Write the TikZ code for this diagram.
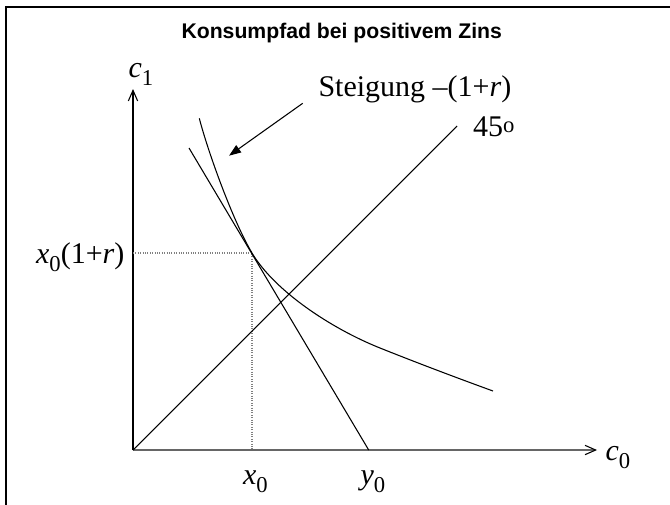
\documentclass[tikz,border=0pt]{standalone}
\usepackage{fontspec}
\setmainfont{Liberation Serif}
\newfontfamily\headfont{Liberation Sans}
\usetikzlibrary{arrows.meta}
\newcommand\lowidx[2]{\textit{#1}\raisebox{-6pt}{\fontsize{17}{17}\selectfont #2}}

\begin{document}
\begin{tikzpicture}[x=.75pt,y=-.75pt,font=\fontsize{22.5}{27}\selectfont,line width=.8pt,
  axis/.style={-{Straight Barb[length=8pt,width=7pt,line width=.8pt,color=black]}},
  guide/.style={densely dotted,black!50},
  lbl/.style={inner sep=0pt}]
\useasboundingbox (0,0) rectangle (670,504);
\draw[line width=1.1pt] (6,540) -- (6,7) -- (700,7);
\node[lbl,anchor=base,font=\headfont\bfseries\fontsize{15.9}{19}\selectfont] (title) at (341.7,38.3) {Konsumpfad bei positivem Zins};
\coordinate (orig) at (133,450);
\coordinate (xend) at (597,450);
\coordinate (yend) at (133,89);
\coordinate (tang) at (252,253);
\coordinate (xfoot) at (252,450);
\coordinate (yfoot) at (133,253);
\coordinate (bstart) at (189,148);
\coordinate (bend) at (368.7,450);
\coordinate (diag) at (457,126);
\coordinate (icstart) at (199.3,118.3);
\coordinate (icend) at (493,391);
\coordinate (arrtail) at (302.7,103.3);
\coordinate (arrtip) at (229,155.7);
\draw[axis] (orig) -- (yend);
\draw[axis,black!60,line width=1.1pt] (orig) -- (xend);
\draw[guide] (yfoot) -- (tang) -- (xfoot);
\draw (bstart) -- (bend);
\draw (orig) -- (diag);
\draw (icstart) .. controls (207.3,149.5) and (232,219.2) .. (tang) .. controls (274,290.2) and (330,328) .. (380,348) .. controls (420,364) and (460,379) .. (icend);
\draw[-{Triangle[length=9pt,width=6.5pt]}] (arrtail) -- (arrtip);
\node[lbl,anchor=base west] (c1) at (128,77) {\lowidx{c}{1}};
\node[lbl,anchor=base west] (c0) at (605,460) {\lowidx{c}{0}};
\node[lbl,anchor=base] (x0) at (255.5,484) {\lowidx{x}{0}};
\node[lbl,anchor=base west] (y0) at (360,484) {\lowidx{y}{0}};
\node[lbl,anchor=base east] (x0r) at (125,263) {\lowidx{x}{0}(1+\textit{r})};
\node[lbl,anchor=base west] (slope) at (318,96.7) {Steigung \textendash(1+\textit{r})};
\node[lbl,anchor=base west] (deg) at (472.7,136.7) {45\raisebox{2.8pt}{\fontsize{17}{17}\selectfont o}};
\end{tikzpicture}
\end{document}
